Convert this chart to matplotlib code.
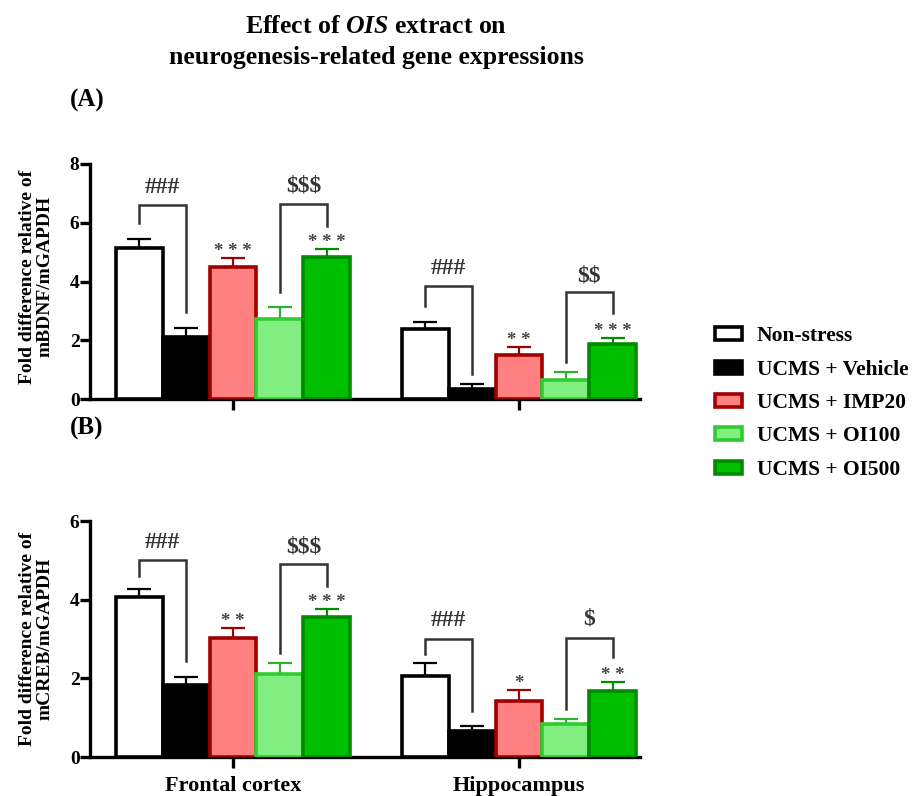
import matplotlib
matplotlib.use("Agg")
import matplotlib.pyplot as plt
from matplotlib.patches import Patch
import numpy as np

plt.rcParams['font.family'] = ['Liberation Serif', 'DejaVu Serif']
plt.rcParams['font.weight'] = 'bold'
plt.rcParams['mathtext.fontset'] = 'custom'
plt.rcParams['mathtext.it'] = 'Liberation Serif:bold:italic'
plt.rcParams['mathtext.rm'] = 'Liberation Serif:bold'

regions = ["Frontal cortex", "Hippocampus"]
groups = ["Non-stress", "UCMS + Vehicle", "UCMS + IMP20", "UCMS + OI100", "UCMS + OI500"]

# Panel A: mBDNF
bdnf_mean = {
    "Frontal cortex": [5.15, 2.11, 4.50, 2.72, 4.85],
    "Hippocampus":    [2.38, 0.34, 1.50, 0.65, 1.87],
}
bdnf_err = {
    "Frontal cortex": [0.30, 0.30, 0.30, 0.40, 0.27],
    "Hippocampus":    [0.24, 0.17, 0.27, 0.27, 0.20],
}
# Panel B: mCREB
creb_mean = {
    "Frontal cortex": [4.07, 1.84, 3.03, 2.11, 3.56],
    "Hippocampus":    [2.06, 0.66, 1.42, 0.83, 1.67],
}
creb_err = {
    "Frontal cortex": [0.20, 0.19, 0.25, 0.28, 0.21],
    "Hippocampus":    [0.33, 0.14, 0.28, 0.13, 0.23],
}
# significance marks vs vehicle (group index, text)
stars_A = {"Frontal cortex": [(2, "* * *"), (4, "* * *")], "Hippocampus": [(2, "* *"), (4, "* * *")]}
stars_B = {"Frontal cortex": [(2, "* *"), (4, "* * *")], "Hippocampus": [(2, "*"), (4, "* *")]}
# brackets: (i, j, y_left_bottom, y_top, y_right_bottom, label, label_y)
brackets_A = {
    "Frontal cortex": [(0, 1, 6.0, 6.6, 2.95, "###", 7.2), (3, 4, 3.65, 6.63, 5.9, "$$$", 7.25)],
    "Hippocampus":    [(0, 1, 3.16, 3.84, 0.85, "###", 4.45), (3, 4, 1.26, 3.64, 2.93, "$$", 4.2)],
}
brackets_B = {
    "Frontal cortex": [(0, 1, 4.6, 5.01, 2.44, "###", 5.45), (3, 4, 2.65, 4.91, 4.35, "$$$", 5.35)],
    "Hippocampus":    [(0, 1, 2.62, 3.0, 1.16, "###", 3.48), (3, 4, 1.23, 3.03, 2.55, "$", 3.5)],
}

faces = ["white", "black", "#FF8080", "#80EE80", "#00BF00"]
edges = ["black", "black", "#A00000", "#2ECC2E", "#008C00"]
ecols = ["black", "black", "#A00000", "#30B030", "#008C00"]

W, H = 914, 796
fig = plt.figure(figsize=(W / 100, H / 100), dpi=100)

def px_axes(left, top, right, bottom):
    return fig.add_axes([left / W, 1 - bottom / H, (right - left) / W, (bottom - top) / H])

axA = px_axes(90, 164, 640, 399)
axB = px_axes(90, 521, 640, 757)

w = 0.164

def draw(ax, means, errs, stars, brackets, ymax, yticks, ylabel, show_x, ylab_y):
    for gi, reg in enumerate(regions):
        for k in range(5):
            x = gi + (k - 2) * w
            m = means[reg][k]
            e = errs[reg][k]
            ax.bar(x, m, width=w, color=faces[k], edgecolor=edges[k], linewidth=2.6, zorder=3)
            ax.errorbar(x, m, yerr=[[0], [e]], fmt='none', ecolor=ecols[k],
                        elinewidth=1.6, capsize=8.5, capthick=1.6, zorder=2)
        for k, s in stars[reg]:
            x = gi + (k - 2) * w
            top = means[reg][k] + errs[reg][k]
            ax.annotate(s, (x, top), xytext=(0, 1.5), textcoords='offset points',
                        ha='center', va='baseline', fontsize=13.5, color='#444444',
                        fontweight='bold')
        for i, j, yl, yt, yr, lab, ly in brackets[reg]:
            xi = gi + (i - 2) * w
            xj = gi + (j - 2) * w
            ax.plot([xi, xi, xj, xj], [yl, yt, yt, yr], color='#333333', lw=1.8,
                    solid_joinstyle='miter', zorder=4, clip_on=False)
            ax.text((xi + xj) / 2, ly, lab.replace('$', r'\$'), ha='center', va='center',
                    fontsize=17, color='#333333', fontweight='bold')
    ax.set_xlim(-0.5, 1.423)
    ax.set_ylim(0, ymax)
    ax.set_yticks(yticks)
    ax.set_xticks([0, 1])
    if show_x:
        ax.set_xticklabels(regions, fontsize=16, fontweight='bold')
    else:
        ax.set_xticklabels([])
    for s in ['top', 'right']:
        ax.spines[s].set_visible(False)
    for s in ['left', 'bottom']:
        ax.spines[s].set_linewidth(2.4)
    ax.tick_params(axis='y', width=2.4, length=7, labelsize=14, pad=0.5)
    ax.tick_params(axis='x', width=2.4, length=8, pad=6)
    for t in ax.get_yticklabels():
        t.set_fontweight('bold')
    ax.set_ylabel(ylabel, fontsize=14, fontweight='bold', linespacing=1.05)
    ax.yaxis.set_label_coords(-0.066, ylab_y)

draw(axA, bdnf_mean, bdnf_err, stars_A, brackets_A, 8, [0, 2, 4, 6, 8],
     "Fold difference relative of\nmBDNF/mGAPDH", False, 0.52)
draw(axB, creb_mean, creb_err, stars_B, brackets_B, 6, [0, 2, 4, 6],
     "Fold difference relative of\nmCREB/mGAPDH", True, 0.5)

fig.text(376 / W, 1 - 33 / H, r"Effect of $\mathit{OIS}$ extract on", ha='center', va='baseline',
         fontsize=18.5, fontweight='bold')
fig.text(376 / W, 1 - 64 / H, "neurogenesis-related gene expressions", ha='center', va='baseline',
         fontsize=18.5, fontweight='bold')
fig.text(70 / W, 1 - 100 / H, "(A)", ha='left', va='center', fontsize=18, fontweight='bold')
fig.text(70 / W, 1 - 428 / H, "(B)", ha='left', va='center', fontsize=18, fontweight='bold')

handles = [Patch(facecolor=faces[k], edgecolor=edges[k], linewidth=2.6) for k in range(5)]
fig.legend(handles, groups, loc='center left', bbox_to_anchor=(715 / W, 1 - 403 / H),
           frameon=False, prop={'family': 'Liberation Serif', 'weight': 'bold', 'size': 15.5},
           handlelength=1.25, handleheight=0.55, labelspacing=0.62, handletextpad=0.7,
           borderpad=0, borderaxespad=0)

fig.savefig("out.png", dpi=100)
